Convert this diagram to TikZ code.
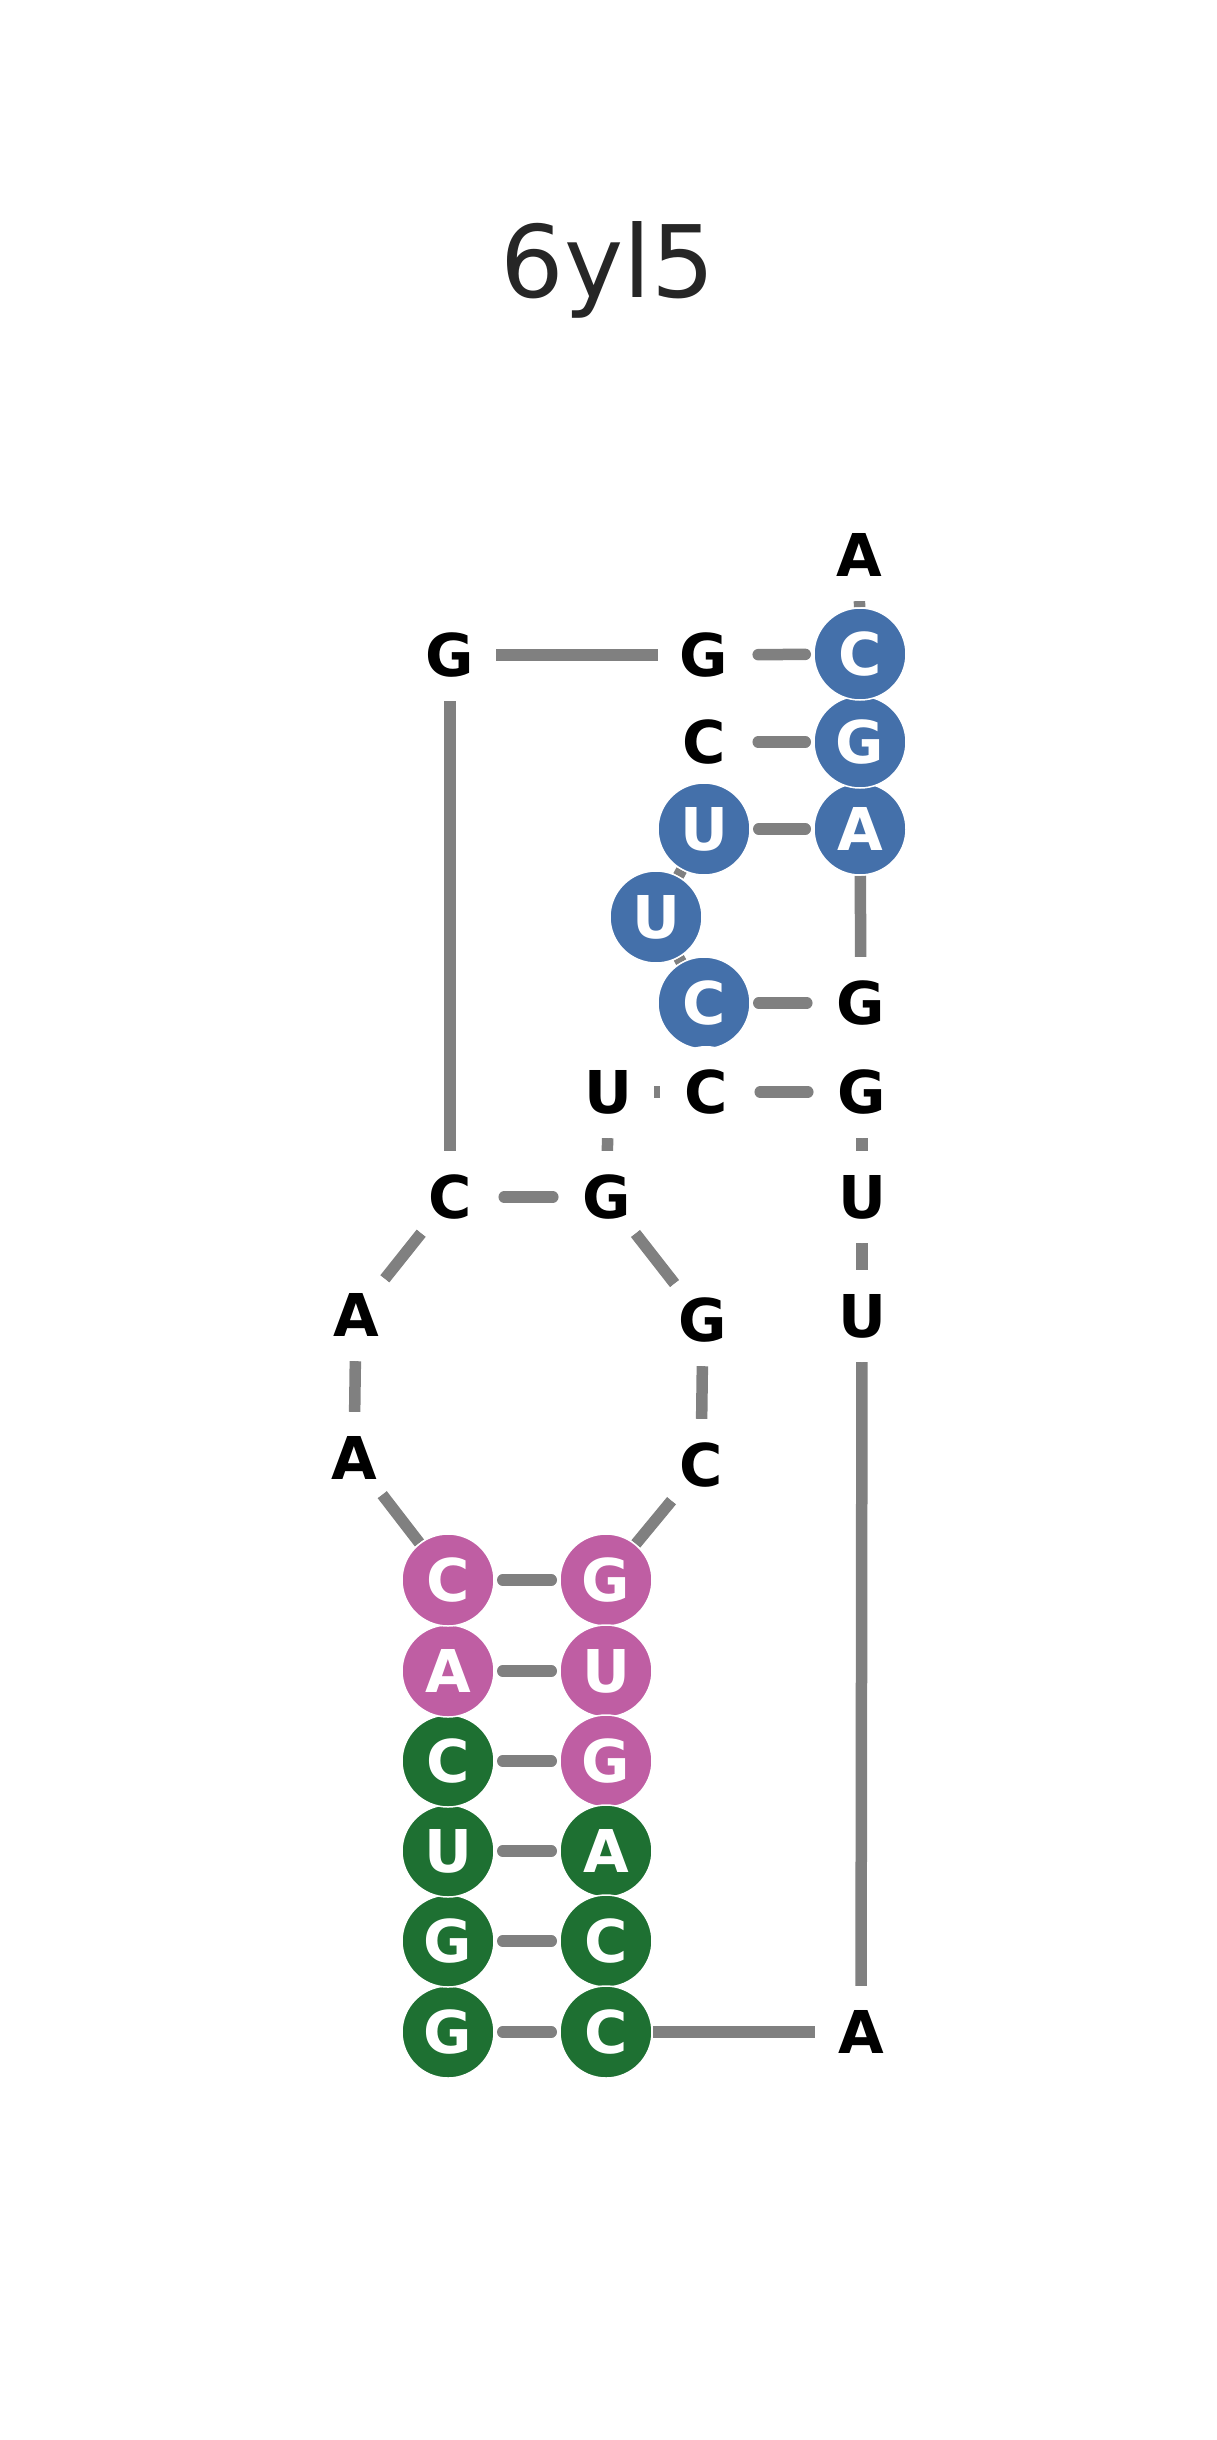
\documentclass[tikz,border=0pt]{standalone}
\usepackage{fontspec}
\setmainfont{DejaVu Sans}
\usepackage{tikz}
\usetikzlibrary{backgrounds}
\definecolor{rnagray}{RGB}{128,128,128}
\definecolor{rnablue}{RGB}{68,112,170}
\definecolor{rnapink}{RGB}{191,94,163}
\definecolor{rnagreen}{RGB}{30,112,50}
\definecolor{rnaink}{RGB}{38,38,38}

\begin{document}
\begin{tikzpicture}[
    x=1pt, y=-1pt,
    nt/.style={circle, minimum size=92pt, inner sep=0pt, fill=white, text=black,
      font=\fontsize{59}{59}\selectfont\bfseries},
    ntblue/.style={nt, fill=rnablue, draw=white, line width=1.5pt, text=white},
    ntpink/.style={nt, fill=rnapink, draw=white, line width=1.5pt, text=white},
    ntgreen/.style={nt, fill=rnagreen, draw=white, line width=1.5pt, text=white},
    backbone/.style={draw=rnagray, line width=11.5pt},
    pair/.style={backbone, line cap=round, shorten <=8pt, shorten >=8pt}
  ]
  \useasboundingbox (0,0) rectangle (1216,2440);

  \node[font=\fontsize{100}{100}\selectfont, text=rnaink, anchor=base] (title) at (608,297) {6yl5};

  % left strand of the lower stem, then the loop
  \node[ntgreen] (nt1) at (448,2032) {G};
  \node[ntgreen] (nt2) at (448,1941) {G};
  \node[ntgreen] (nt3) at (448,1851) {U};
  \node[ntgreen] (nt4) at (448,1761) {C};
  \node[ntpink] (nt5) at (448,1671) {A};
  \node[ntpink] (nt6) at (448,1580) {C};
  \node[nt] (nt7) at (354,1458) {A};
  \node[nt] (nt8) at (356,1315) {A};
  \node[nt] (nt9) at (450,1197) {C};
  \node[nt] (nt10) at (450,655) {G};
  % middle column
  \node[nt] (nt11) at (704,655) {G};
  \node[nt] (nt12) at (704,742) {C};
  \node[ntblue] (nt13) at (704,829) {U};
  \node[ntblue] (nt14) at (656,917) {U};
  \node[ntblue] (nt15) at (704,1003) {C};
  \node[nt] (nt16) at (706,1092) {C};
  \node[nt] (nt17) at (608,1092) {U};
  \node[nt] (nt18) at (607,1197) {G};
  \node[nt] (nt19) at (703,1320) {G};
  \node[nt] (nt20) at (701,1465) {C};
  % right strand of the lower stem
  \node[ntpink] (nt21) at (606,1580) {G};
  \node[ntpink] (nt22) at (606,1671) {U};
  \node[ntpink] (nt23) at (606,1761) {G};
  \node[ntgreen] (nt24) at (606,1851) {A};
  \node[ntgreen] (nt25) at (606,1941) {C};
  \node[ntgreen] (nt26) at (606,2032) {C};
  % right column, bottom to top
  \node[nt] (nt27) at (861,2032) {A};
  \node[nt] (nt28) at (862,1316) {U};
  \node[nt] (nt29) at (862,1197) {U};
  \node[nt] (nt30) at (862,1092) {G};
  \node[nt] (nt31) at (861,1003) {G};
  \node[ntblue] (nt32) at (860,829) {A};
  \node[ntblue] (nt33) at (860,742) {G};
  \node[ntblue] (nt34) at (860,654) {C};
  \node[nt] (nt35) at (859,555) {A};

  \begin{scope}[on background layer]
    \fill[white] (0,0) rectangle (1216,2440);
    \foreach \i in {1,...,34} {
      \pgfmathtruncatemacro\j{\i+1}
      \draw[backbone] (nt\i) -- (nt\j);
    }
    \foreach \a/\b in {1/26,2/25,3/24,4/23,5/22,6/21,9/18,11/34,12/33,13/32,15/31,16/30}
      \draw[pair] (nt\a) -- (nt\b);
  \end{scope}
\end{tikzpicture}
\end{document}
